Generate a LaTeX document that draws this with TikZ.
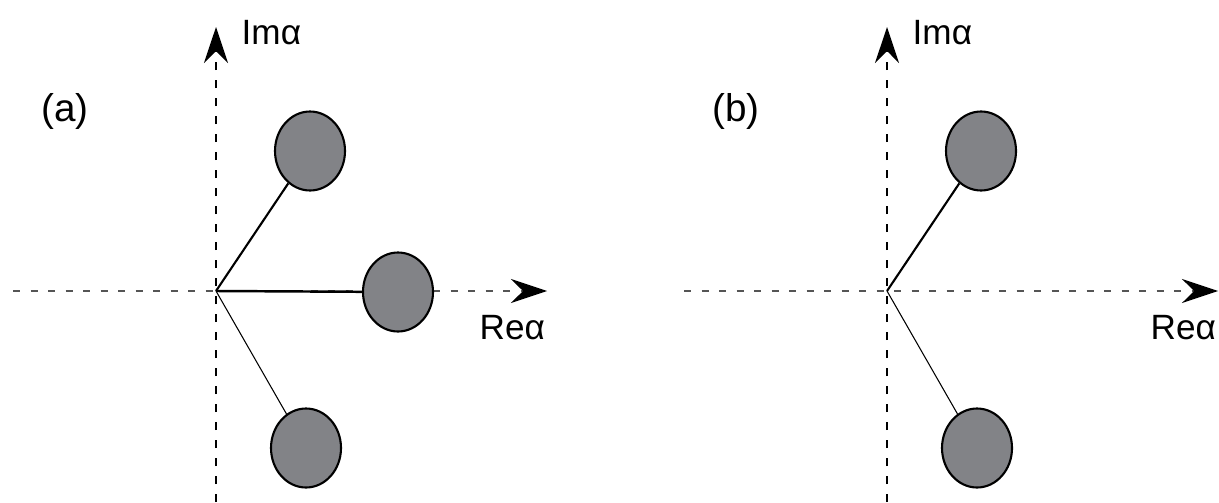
\documentclass[tikz,border=0pt]{standalone}
\usepackage{fontspec}
\setmainfont{Liberation Sans}
\usetikzlibrary{arrows.meta,shapes.geometric}
\tikzset {>={Stealth[length=3.6mm,width=2.4mm,inset=1.2mm,black]}}
\definecolor{blobgray}{RGB}{130,131,135}
\definecolor{axisgray}{RGB}{85,85,85}

\begin{document}
\begin{tikzpicture}[
  imaxis/.style={->,line width=.65pt,dash pattern=on .8mm off 1mm},
  reaxis/.style={->,line width=.45pt,color=axisgray,dash pattern=on .7mm off 1.05mm},
  blob/.style={ellipse,draw,line width=.6pt,fill=blobgray,inner sep=0pt,
    minimum width=.7cm,minimum height=.79cm},
  axlabel/.style={anchor=base west,inner sep=0pt,font=\fontsize{10}{12}\selectfont},
  panel/.style={inner sep=0pt,font=\fontsize{11}{13}\selectfont}
]
\useasboundingbox (0,0) rectangle (12.19,5.02);

% the two panels differ only by the blob on the real axis
\foreach \p/\dx in {a/0,b/6.71} {
\begin{scope}[xshift=\dx cm]
  \coordinate (\p-O) at (2.16,2.11);
  \coordinate (\p-S) at (2.16,0);
  \coordinate (\p-N) at (2.16,4.75);
  \coordinate (\p-W) at (0.13,2.11);
  \coordinate (\p-E) at (5.47,2.11);

  \draw[imaxis] (\p-S) -- (\p-N);
  \draw[reaxis] (\p-W) -- (\p-E);

  \node[axlabel] (\p-im) at (2.41,4.57) {Imα};
  \node[axlabel] (\p-re) at (4.79,1.63) {Reα};
  \node[panel] (\p-lbl) at (0.65,3.91) {(\p)};

  \node[blob] (\p-up) at (3.10,3.51) {};
  \node[blob] (\p-dn) at (3.06,0.54) {};

  \draw[line width=.6pt] (\p-O) -- (\p-up);
  \draw[line width=.3pt] (\p-O) -- (\p-dn);
\end{scope}}

\node[blob] (a-rt) at (3.98,2.10) {};
\draw[line width=.7pt] (a-O) -- (a-rt);
\end{tikzpicture}
\end{document}
